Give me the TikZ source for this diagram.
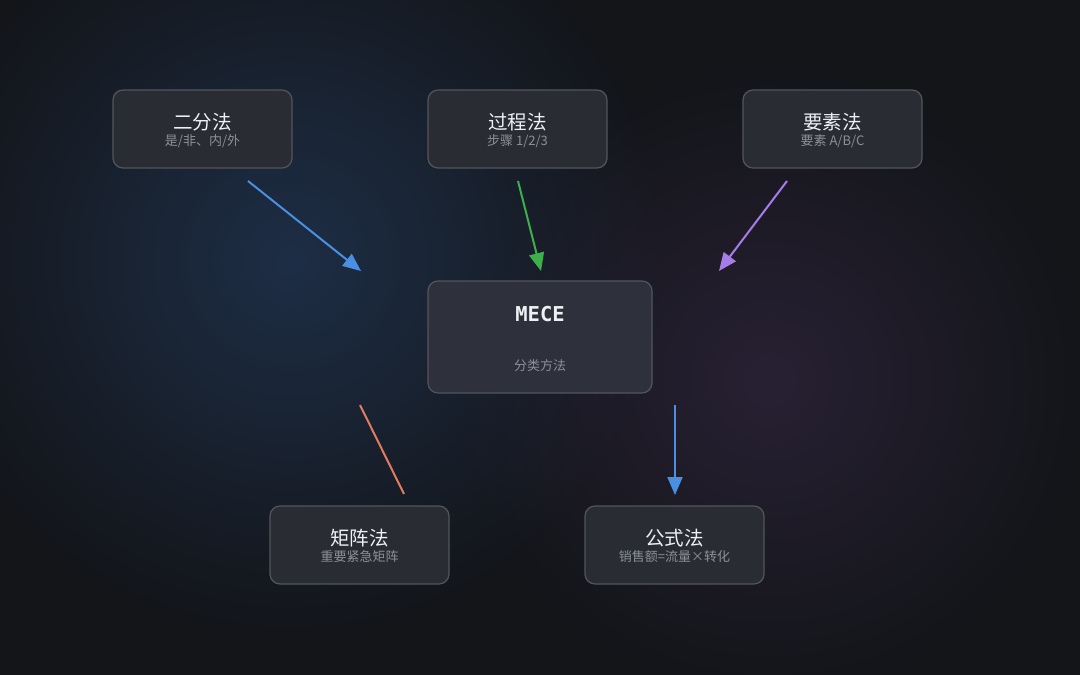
\documentclass[tikz,border=0pt]{standalone}
\usepackage{fontspec}
\setmainfont{Noto Sans CJK SC}
\newfontfamily\monoFont{DejaVu Sans Mono}
\usetikzlibrary{positioning, arrows.meta, fadings}
\tikzfading[name=glowFade, inner color=transparent!0, outer color=transparent!100]
\definecolor{bgDark}{RGB}{19, 21, 25}
\definecolor{glowBlue}{RGB}{30, 46, 70}
\definecolor{glowPurple}{RGB}{40, 33, 52}
\definecolor{boxFill}{RGB}{41, 44, 50}
\definecolor{boxFillMid}{RGB}{46, 49, 59}
\definecolor{boxLine}{RGB}{82, 85, 92}
\definecolor{titleCol}{RGB}{238, 240, 244}
\definecolor{subCol}{RGB}{140, 144, 152}
\definecolor{arrBlue}{RGB}{74, 144, 226}
\definecolor{arrGreen}{RGB}{60, 176, 74}
\definecolor{arrPurple}{RGB}{166, 124, 232}
\definecolor{arrOrange}{RGB}{226, 124, 96}
\tikzset{myBox/.style={draw=boxLine, line width=1.2pt, fill=boxFill, rounded corners=10pt, minimum width=179pt, minimum height=78pt}}
\tikzset{myTitle/.style={text=titleCol, font=\fontsize{19.5}{22}\selectfont, inner sep=0pt}}
\tikzset{mySub/.style={text=subCol, font=\fontsize{13}{15}\selectfont, inner sep=0pt}}
\tikzset{myArrow/.style={line width=2pt, -{Triangle[length=18pt,width=15pt]}}}

\begin{document}
\begin{tikzpicture}[x=1pt,y=-1pt]
	\useasboundingbox (0,0) rectangle (1080,675);
	\fill[bgDark] (0,0) rectangle (1080,675);
	\fill[glowBlue, path fading=glowFade] (290,260) circle (380);
	\fill[glowPurple, path fading=glowFade] (770,380) circle (320);
	
	% top row
	\node[myBox] (erfen) at (202.5,129) {};
	\node[myTitle] at ([yshift=7pt]erfen.center) {二分法};
	\node[mySub] at ([yshift=-12pt]erfen.center) {是/非、内/外};
	
	\node[myBox] (guocheng) at (517.5,129) {};
	\node[myTitle] at ([yshift=7pt]guocheng.center) {过程法};
	\node[mySub] at ([yshift=-12pt]guocheng.center) {步骤 1/2/3};
	
	\node[myBox] (yaosu) at (832.5,129) {};
	\node[myTitle] at ([yshift=7pt]yaosu.center) {要素法};
	\node[mySub] at ([yshift=-12pt]yaosu.center) {要素 A/B/C};
	
	% centre
	\node[myBox, fill=boxFillMid, minimum width=224pt, minimum height=112pt] (mece) at (540,337) {};
	\node[myTitle, font=\monoFont\bfseries\fontsize{20.5}{22}\selectfont] at ([yshift=23pt]mece.center) {MECE};
	\node[mySub] at ([yshift=-29pt]mece.center) {分类方法};
	
	% bottom row
	\node[myBox] (juzhen) at (359.5,545) {};
	\node[myTitle] at ([yshift=7pt]juzhen.center) {矩阵法};
	\node[mySub] at ([yshift=-12pt]juzhen.center) {重要紧急矩阵};
	
	\node[myBox] (gongshi) at (674.5,545) {};
	\node[myTitle] at ([yshift=7pt]gongshi.center) {公式法};
	\node[mySub] at ([yshift=-12pt]gongshi.center) {销售额=流量×转化};
	
	% connectors
	\coordinate (A) at (248,181);
	\coordinate (A') at (361,271);
	\coordinate (B) at (518,181);
	\coordinate (B') at (541,271);
	\coordinate (C) at (787,181);
	\coordinate (C') at (719,271);
	\coordinate (D) at (360,405);
	\coordinate (D') at (404,494);
	\coordinate (E) at (675,405);
	\coordinate (E') at (675,495);
	\draw[myArrow, arrBlue] (A) -- (A');
	\draw[myArrow, arrGreen] (B) -- (B');
	\draw[myArrow, arrPurple] (C) -- (C');
	\draw[line width=2pt, arrOrange] (D) -- (D');
	\draw[myArrow, arrBlue] (E) -- (E');
\end{tikzpicture}
\end{document}
